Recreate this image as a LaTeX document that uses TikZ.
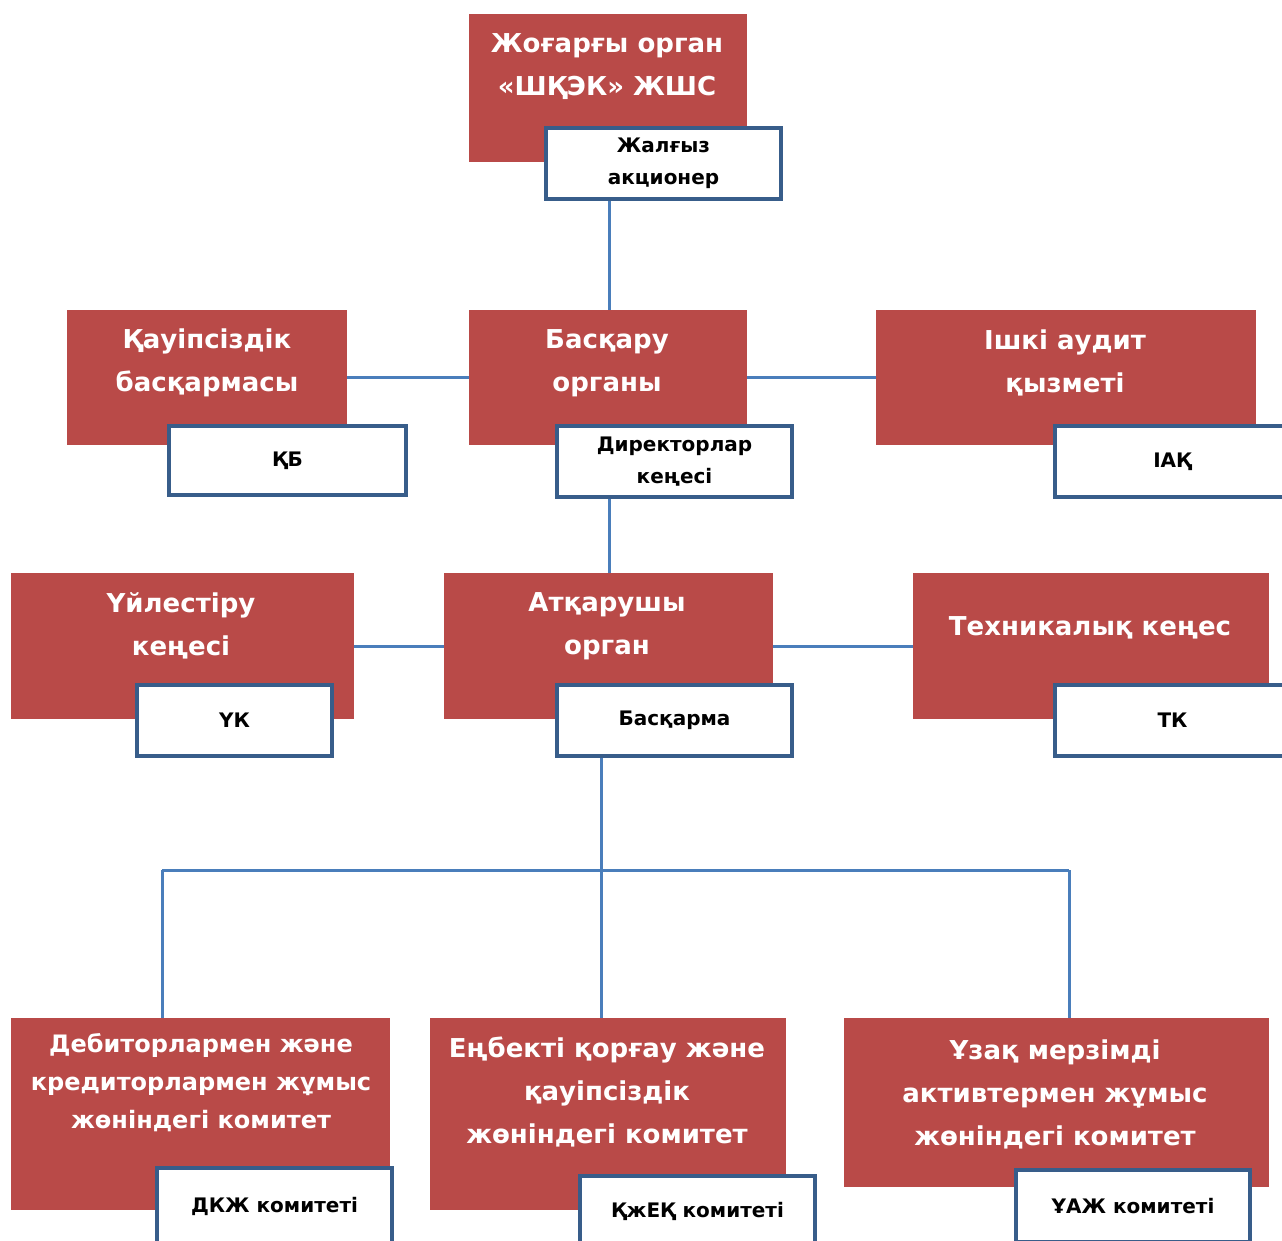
\documentclass[tikz,border=0pt]{standalone}
\usepackage{fontspec}
\setmainfont{DejaVu Sans}
\definecolor{boxred}{HTML}{B94A48}
\definecolor{edgeblue}{HTML}{385D8A}
\definecolor{linkblue}{HTML}{4A7EBB}
\begin{document}
\begin{tikzpicture}[x=1pt,y=-1pt,
  redbox/.style={fill=boxred, draw=none, inner sep=0pt},
  redtext/.style={text=white, font=\bfseries\fontsize{26}{43}\selectfont, align=center, inner sep=0pt},
  redtextb/.style={text=white, font=\bfseries\fontsize{24}{38}\selectfont, align=center, inner sep=0pt},
  whitebox/.style={fill=white, draw=edgeblue, line width=3.5pt, align=center, inner sep=0pt,
     font=\bfseries\fontsize{20}{32}\selectfont, text=black},
  link/.style={draw=linkblue, line width=3pt}]
\useasboundingbox (0,0) rectangle (1282,1240);
\fill[white] (0,0) rectangle (1282,1240);

% --- red boxes ---
\node[redbox, minimum width=278pt, minimum height=148pt] (top) at (608,88) {};
\node[redbox, minimum width=280pt, minimum height=135pt] (kb) at (207,377.5) {};
\node[redbox, minimum width=278pt, minimum height=135pt] (bo) at (608,377.5) {};
\node[redbox, minimum width=380pt, minimum height=135pt] (ia) at (1066,377.5) {};
\node[redbox, minimum width=343pt, minimum height=146pt] (uk) at (182.5,646) {};
\node[redbox, minimum width=329pt, minimum height=146pt] (ao) at (608.5,646) {};
\node[redbox, minimum width=356pt, minimum height=146pt] (tk) at (1091,646) {};
\node[redbox, minimum width=379pt, minimum height=192pt] (dk) at (200.5,1114) {};
\node[redbox, minimum width=356pt, minimum height=192pt] (ek) at (608,1114) {};
\node[redbox, minimum width=425pt, minimum height=169pt] (uz) at (1056.5,1102.5) {};

% --- red box texts ---
\node[redtext] (topt) at (607,67) {Жоғарғы орган\\«ШҚЭК» ЖШС};
\node[redtext] (kbt) at (207,363) {Қауіпсіздік\\басқармасы};
\node[redtext] (bot) at (607,363) {Басқару\\органы};
\node[redtext] (iat) at (1065,363) {Ішкі аудит\\қызметі};
\node[redtext] (ukt) at (181,626) {Үйлестіру\\кеңесі};
\node[redtext] (aot) at (607,626) {Атқарушы\\орган};
\node[redtext] (tkt) at (1090,628) {Техникалық кеңес};
\node[redtextb] (dkt) at (201,1083) {Дебиторлармен және\\кредиторлармен жұмыс\\жөніндегі комитет};
\node[redtext] (ekt) at (607,1092) {Еңбекті қорғау және\\қауіпсіздік\\жөніндегі комитет};
\node[redtext] (uzt) at (1055,1094) {Ұзақ мерзімді\\активтермен жұмыс\\жөніндегі комитет};

% --- white boxes ---
\node[whitebox, minimum width=235pt, minimum height=71pt] (w1) at (663.5,163.5) {Жалғыз\\акционер};
\node[whitebox, minimum width=237pt, minimum height=69pt] (w2) at (287.5,460.5) {ҚБ};
\node[whitebox, minimum width=235pt, minimum height=71pt] (w3) at (674.5,461.5) {Директорлар\\кеңесі};
\node[whitebox, minimum width=235pt, minimum height=71pt] (w4) at (1172.5,461.5) {ІАҚ};
\node[whitebox, minimum width=195pt, minimum height=71pt] (w5) at (234.5,720.5) {ҮК};
\node[whitebox, minimum width=235pt, minimum height=71pt] (w6) at (674.5,720.5) {Басқарма};
\node[whitebox, minimum width=235pt, minimum height=71pt] (w7) at (1172.5,720.5) {ТК};
\node[whitebox, minimum width=235pt, minimum height=76pt] (w8) at (274.5,1206) {ДКЖ комитеті};
\node[whitebox, minimum width=235pt, minimum height=70pt] (w9) at (697.5,1211) {ҚжЕҚ комитеті};
\node[whitebox, minimum width=234pt, minimum height=72pt] (w10) at (1133,1206) {ҰАЖ комитеті};

% --- connectors ---
\coordinate (c1) at (609,0);
\coordinate (bus) at (601,870);
\coordinate (busl) at (162,870);
\coordinate (busr) at (1069,870);
\draw[link] (w1.south -| c1) -- (bo.north -| c1);
\draw[link] (kb.east) -- (bo.west);
\draw[link] (bo.east) -- (ia.west);
\draw[link] (w3.south -| c1) -- (ao.north -| c1);
\draw[link] (uk.east) -- (ao.west);
\draw[link] (ao.east) -- (tk.west);
\draw[link] (w6.south -| bus) -- (ek.north -| bus);
\draw[link] (busl) -- (busr);
\draw[link] (busl) -- (dk.north -| busl);
\draw[link] (busr) -- (uz.north -| busr);
\end{tikzpicture}
\end{document}
